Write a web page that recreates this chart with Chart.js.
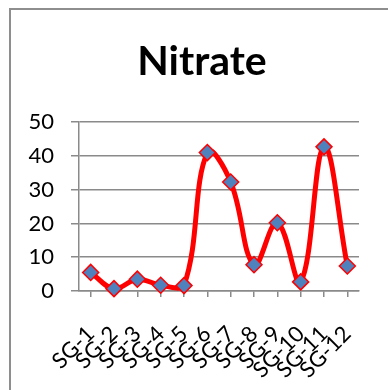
<!DOCTYPE html>
<html>
<head>
<meta charset="utf-8">
<script src="https://cdn.jsdelivr.net/npm/chart.js@4"></script>
<style>
  html, body { margin: 0; padding: 0; background: #fff; overflow: hidden; }
  #wrap { position: relative; width: 388px; height: 390px; }
  #frame { position: absolute; left: 9px; top: 8px; width: 420px; height: 420px;
           border: 2px solid #8e8e8e; box-sizing: border-box; }
  #c { position: absolute; left: 0; top: 0; }
</style>
</head>
<body>
<div id="wrap">
  <div id="frame"></div>
  <canvas id="c" width="388" height="390"></canvas>
</div>
<script>
// Sampling sites and nitrate readings
const categories = ['SG-1','SG-2','SG-3','SG-4','SG-5','SG-6','SG-7','SG-8','SG-9','SG-10','SG-11','SG-12'];
const nitrate = [5.5, 0.7, 3.5, 1.7, 1.6, 41.0, 32.3, 7.8, 20.2, 2.7, 42.7, 7.4];
const yTicks = [0, 10, 20, 30, 40, 50];

const FONT = 'Lato, "Open Sans", sans-serif';
const GRID = '#8a8a8a';

new Chart(document.getElementById('c'), {
  type: 'line',
  data: {
    labels: categories,
    datasets: [{
      data: nitrate,
      borderColor: '#ff0000',
      borderWidth: 5,
      tension: 0.4,
      fill: false,
      pointStyle: 'rectRot',
      pointRadius: 8,
      pointHoverRadius: 8,
      pointBackgroundColor: '#4f81bd',
      pointBorderColor: '#ff0000',
      pointBorderWidth: 1.5,
      clip: false
    }]
  },
  options: {
    responsive: false,
    animation: false,
    events: [],
    layout: { padding: { left: 20, right: 4, top: 0, bottom: 0 } },
    plugins: {
      legend: { display: false },
      tooltip: { enabled: false },
      title: {
        display: true,
        text: 'Nitrate',
        color: '#000',
        font: { family: FONT, size: 41, weight: 'bold' },
        padding: { top: 37, bottom: 36 }
      }
    },
    scales: {
      x: {
        offset: true,
        afterFit: s => { s.height = 390 - 291; s.paddingRight = 0; },
        grid: { display: true, drawOnChartArea: false, drawTicks: true, tickLength: 6, color: GRID, lineWidth: 1.5 },
        border: { display: true, color: GRID, width: 1.5 },
        ticks: {
          autoSkip: false, minRotation: 45, maxRotation: 45, padding: 24,
          color: '#000', font: { family: FONT, size: 22 }
        }
      },
      y: {
        min: 0, max: 50,
        afterFit: s => { s.width = 79 - 20; },
        afterBuildTicks: s => { s.ticks = yTicks.map(v => ({ value: v })); },
        grid: { color: GRID, lineWidth: 1.5, tickLength: 8 },
        border: { display: true, color: GRID, width: 1.5 },
        ticks: { padding: 17, color: '#000', font: { family: FONT, size: 22 } }
      },
      // blank margin on the right of the plot
      gap: {
        type: 'linear',
        position: 'right',
        afterFit: s => { s.width = 25; },
        grid: { display: false },
        border: { display: false },
        ticks: { display: false }
      }
    }
  }
});
</script>
</body>
</html>
